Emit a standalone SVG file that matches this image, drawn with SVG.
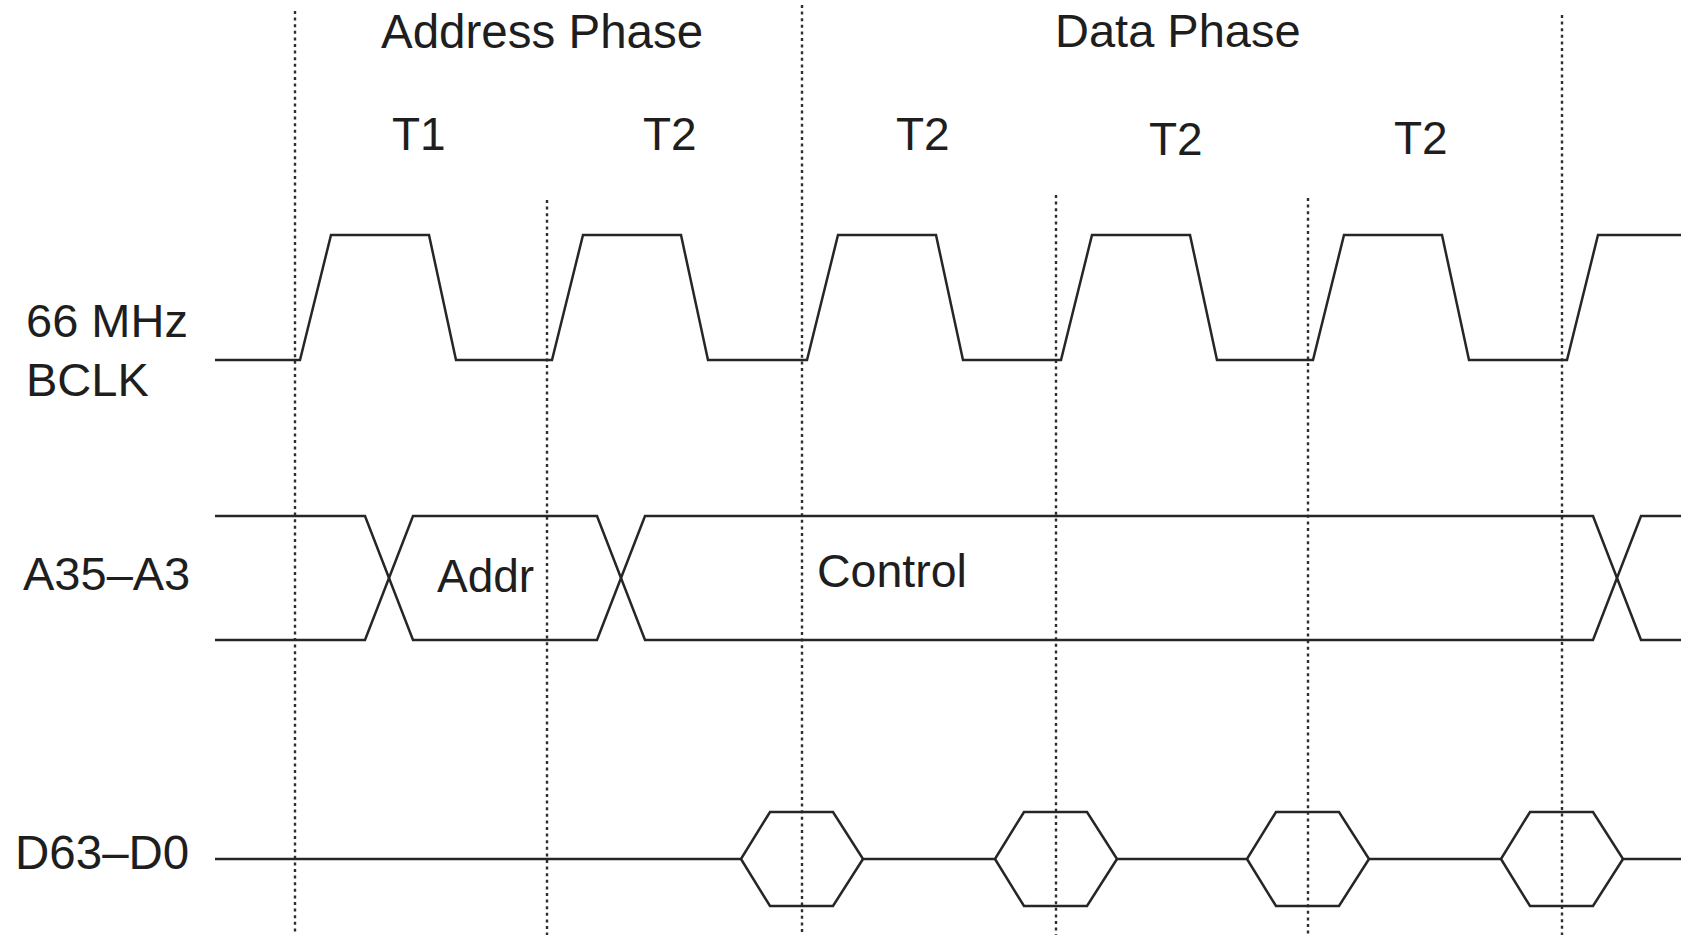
<svg xmlns="http://www.w3.org/2000/svg" width="1681" height="937" viewBox="0 0 1681 937">
  <style>
    text { font-family: "Liberation Sans", Arial, sans-serif; font-size: 46px; fill: #1e1e1e; }
    .wave { fill: none; stroke: #262626; stroke-width: 2.5; stroke-linejoin: miter; }
    .grid { stroke: #2e2e2e; stroke-width: 2.4; stroke-dasharray: 3 3.6; fill: none; }
  </style>
  <rect width="1681" height="937" fill="#fff"/>

  <!-- clock-edge reference lines -->
  <g id="grid">
    <line class="grid" x1="295" y1="11" x2="295" y2="935"/>
    <line class="grid" x1="547" y1="200" x2="547" y2="935"/>
    <line class="grid" x1="802" y1="5" x2="802" y2="935"/>
    <line class="grid" x1="1056" y1="195" x2="1056" y2="935"/>
    <line class="grid" x1="1308" y1="198" x2="1308" y2="935"/>
    <line class="grid" x1="1562" y1="15" x2="1562" y2="935"/>
  </g>

  <!-- phase and cycle headings -->
  <g id="phases">
    <text x="381" y="48" style="font-size:47.5px">Address Phase</text>
    <text x="1055" y="47" style="font-size:47px">Data Phase</text>
  </g>
  <g id="cycles">
    <text x="392" y="150">T1</text>
    <text x="643" y="150">T2</text>
    <text x="896" y="150">T2</text>
    <text x="1149" y="155">T2</text>
    <text x="1394" y="154">T2</text>
  </g>

  <!-- 66 MHz bus clock -->
  <g id="bclk">
    <text x="26" y="337" style="font-size:47px">66 MHz</text>
    <text x="26" y="396" style="font-size:47px">BCLK</text>
    <path class="wave" d="M215,360 L300,360 L331,235 L429,235 L456,360
      L552,360 L583,235 L681,235 L708,360
      L807,360 L838,235 L936,235 L963,360
      L1061,360 L1092,235 L1190,235 L1217,360
      L1313,360 L1344,235 L1442,235 L1469,360
      L1567,360 L1598,235 L1681,235"/>
  </g>

  <!-- address bus -->
  <g id="address-bus">
    <text x="23" y="590" style="font-size:47px">A35–A3</text>
    <path class="wave" d="M215,516 L365,516 L413,640 L597,640 L645,516 L1593,516 L1641,640 L1681,640"/>
    <path class="wave" d="M215,640 L365,640 L413,516 L597,516 L645,640 L1593,640 L1641,516 L1681,516"/>
    <text x="437" y="592">Addr</text>
    <text x="817" y="587" style="font-size:46.5px">Control</text>
  </g>

  <!-- data bus -->
  <g id="data-bus">
    <text x="15" y="869" style="font-size:47.5px">D63–D0</text>
    <path class="wave" d="M215,859 L741,859 L770,812 L833,812 L863,859 L995,859 L1024,812 L1087,812 L1117,859
      L1247,859 L1276,812 L1339,812 L1369,859 L1501,859 L1530,812 L1593,812 L1623,859 L1681,859"/>
    <path class="wave" d="M741,859 L770,906 L833,906 L863,859 M995,859 L1024,906 L1087,906 L1117,859
      M1247,859 L1276,906 L1339,906 L1369,859 M1501,859 L1530,906 L1593,906 L1623,859"/>
  </g>
</svg>
